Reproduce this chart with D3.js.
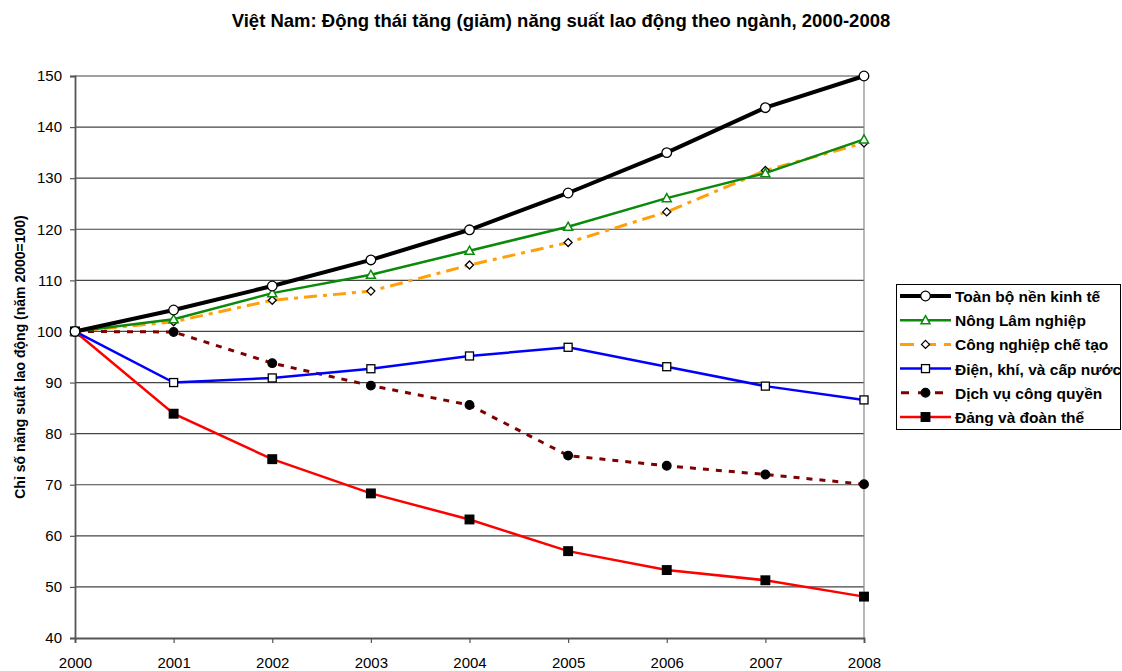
<!DOCTYPE html>
<html>
<head>
<meta charset="utf-8">
<script src="https://cdn.jsdelivr.net/npm/d3@7"></script>
<style>
  body { margin: 0; background: #fff; }
  text { font-family: Arial, "Liberation Sans", sans-serif; }
</style>
</head>
<body>
<svg id="chart" width="1122" height="671"></svg>
<script>
// years on the x axis
const years = [2000, 2001, 2002, 2003, 2004, 2005, 2006, 2007, 2008];
const yTicks = [40, 50, 60, 70, 80, 90, 100, 110, 120, 130, 140, 150];

// index values (2000 = 100)
const toanBo = [100, 104.2, 108.9, 114.0, 119.9, 127.1, 135.0, 143.8, 150.0];
const nongLam = [100, 102.4, 107.5, 111.1, 115.8, 120.5, 126.1, 131.0, 137.6];
const congNghiep = [100, 101.9, 106.1, 107.9, 113.0, 117.4, 123.4, 131.5, 136.9];
const dienKhi = [100, 90.0, 90.9, 92.7, 95.2, 96.9, 93.1, 89.3, 86.6];
const dichVu = [100, 99.9, 93.8, 89.4, 85.6, 75.7, 73.7, 72.0, 70.1];
const dangDoan = [100, 83.9, 75.0, 68.3, 63.2, 57.0, 53.3, 51.3, 48.1];

const seriesNames = ['Toàn bộ nền kinh tế', 'Nông Lâm nghiệp', 'Công nghiệp chế tạo',
  'Điện, khí, và cấp nước', 'Dịch vụ công quyền', 'Đảng và đoàn thể'];

const styles = [
  { values: toanBo, color: '#000', width: 4, dash: null, marker: 'circle', mFill: '#fff', mStroke: '#000', size: 4.8 },
  { values: nongLam, color: '#0a8a0a', width: 2.5, dash: null, marker: 'triangle', mFill: '#fff', mStroke: '#0a8a0a', size: 4.5 },
  { values: congNghiep, color: '#ffa00a', width: 3, dash: '13,6,4,6', marker: 'diamond', mFill: '#fff', mStroke: '#000', size: 4 },
  { values: dienKhi, color: '#0000ff', width: 2.5, dash: null, marker: 'square', mFill: '#fff', mStroke: '#000', size: 4 },
  { values: dichVu, color: '#800000', width: 3, dash: '6,7', marker: 'dot', mFill: '#000', mStroke: '#000', size: 4.3 },
  { values: dangDoan, color: '#ff0000', width: 2.5, dash: null, marker: 'fsquare', mFill: '#000', mStroke: '#000', size: 4.3 }
];

const svg = d3.select('#chart');
const plotLeft = 75, plotRight = 864, plotTop = 76, plotBottom = 638;

const x = d3.scaleLinear().domain([2000, 2008]).range([plotLeft, plotRight]);
const y = d3.scaleLinear().domain([40, 150]).range([plotBottom, plotTop]);

svg.append('text')
  .attr('x', 561).attr('y', 27)
  .attr('text-anchor', 'middle')
  .attr('font-size', 18.5).attr('font-weight', 'bold')
  .text('Việt Nam: Động thái tăng (giảm) năng suất lao động theo ngành, 2000-2008');

// gridlines
svg.append('g').selectAll('line')
  .data(yTicks.filter(d => d > 40))
  .join('line')
  .attr('x1', plotLeft).attr('x2', plotRight)
  .attr('y1', d => y(d)).attr('y2', d => y(d))
  .attr('stroke', '#444').attr('stroke-width', 1.2);

// right edge
svg.append('line')
  .attr('x1', plotRight).attr('x2', plotRight).attr('y1', plotTop).attr('y2', plotBottom)
  .attr('stroke', '#888').attr('stroke-width', 1.2);

const yAxis = svg.append('g')
  .attr('transform', `translate(${plotLeft},0)`)
  .call(d3.axisLeft(y).tickValues(yTicks).tickSize(5).tickPadding(8));
const xAxis = svg.append('g')
  .attr('transform', `translate(0,${plotBottom})`)
  .call(d3.axisBottom(x).tickValues(years).tickFormat(d3.format('d')).tickSize(5).tickPadding(14));

[yAxis, xAxis].forEach(ax => {
  ax.select('.domain').attr('stroke', '#555').attr('stroke-width', 1.8);
  ax.selectAll('.tick line').attr('stroke', '#555').attr('stroke-width', 1.2);
  ax.selectAll('.tick text').attr('font-size', 15).attr('fill', '#000')
    .attr('font-family', 'Arial, "Liberation Sans", sans-serif');
});

svg.append('text')
  .attr('transform', `translate(25,${(plotTop + plotBottom) / 2}) rotate(-90)`)
  .attr('text-anchor', 'middle')
  .attr('font-size', 14).attr('font-weight', 'bold')
  .text('Chỉ số năng suất lao động (năm 2000=100)');

function drawMarker(g, s, cx, cy) {
  const r = s.size;
  if (s.marker === 'circle' || s.marker === 'dot') {
    g.append('circle').attr('cx', cx).attr('cy', cy).attr('r', r)
      .attr('fill', s.mFill).attr('stroke', s.mStroke).attr('stroke-width', 1.3);
  } else if (s.marker === 'triangle') {
    g.append('path')
      .attr('d', `M${cx},${cy - r} L${cx + r},${cy + r * 0.8} L${cx - r},${cy + r * 0.8} Z`)
      .attr('fill', s.mFill).attr('stroke', s.mStroke).attr('stroke-width', 1.5);
  } else if (s.marker === 'diamond') {
    g.append('path')
      .attr('d', `M${cx},${cy - r} L${cx + r},${cy} L${cx},${cy + r} L${cx - r},${cy} Z`)
      .attr('fill', s.mFill).attr('stroke', s.mStroke).attr('stroke-width', 1.3);
  } else {
    g.append('rect').attr('x', cx - r).attr('y', cy - r).attr('width', 2 * r).attr('height', 2 * r)
      .attr('fill', s.mFill).attr('stroke', s.mStroke).attr('stroke-width', 1.3);
  }
}

const line = d3.line().x((d, i) => x(years[i])).y(d => y(d));

// draw from the back series to the front one
const order = [5, 4, 3, 2, 1, 0];
order.forEach(k => {
  const s = styles[k];
  const g = svg.append('g');
  g.append('path')
    .attr('d', line(s.values))
    .attr('fill', 'none')
    .attr('stroke', s.color).attr('stroke-width', s.width)
    .attr('stroke-dasharray', s.dash);
  s.values.forEach((v, i) => drawMarker(g, s, x(years[i]), y(v)));
});

// legend
const lg = svg.append('g');
lg.append('rect')
  .attr('x', 896.5).attr('y', 284.5).attr('width', 224).attr('height', 145)
  .attr('fill', '#fff').attr('stroke', '#000').attr('stroke-width', 1);
seriesNames.forEach((name, k) => {
  const s = styles[k];
  const ly = 296 + k * 24.2;
  lg.append('line')
    .attr('x1', 900).attr('x2', 951).attr('y1', ly).attr('y2', ly)
    .attr('stroke', s.color).attr('stroke-width', s.width)
    .attr('stroke-dasharray', s.dash ? (k === 2 ? '14,8' : '8,9') : null)
    .attr('stroke-dashoffset', k === 4 ? -1 : 0);
  drawMarker(lg, s, 925.5, ly);
  lg.append('text')
    .attr('x', 955).attr('y', ly + 6)
    .attr('font-size', 15.5).attr('font-weight', 'bold')
    .text(name);
});
</script>
</body>
</html>
